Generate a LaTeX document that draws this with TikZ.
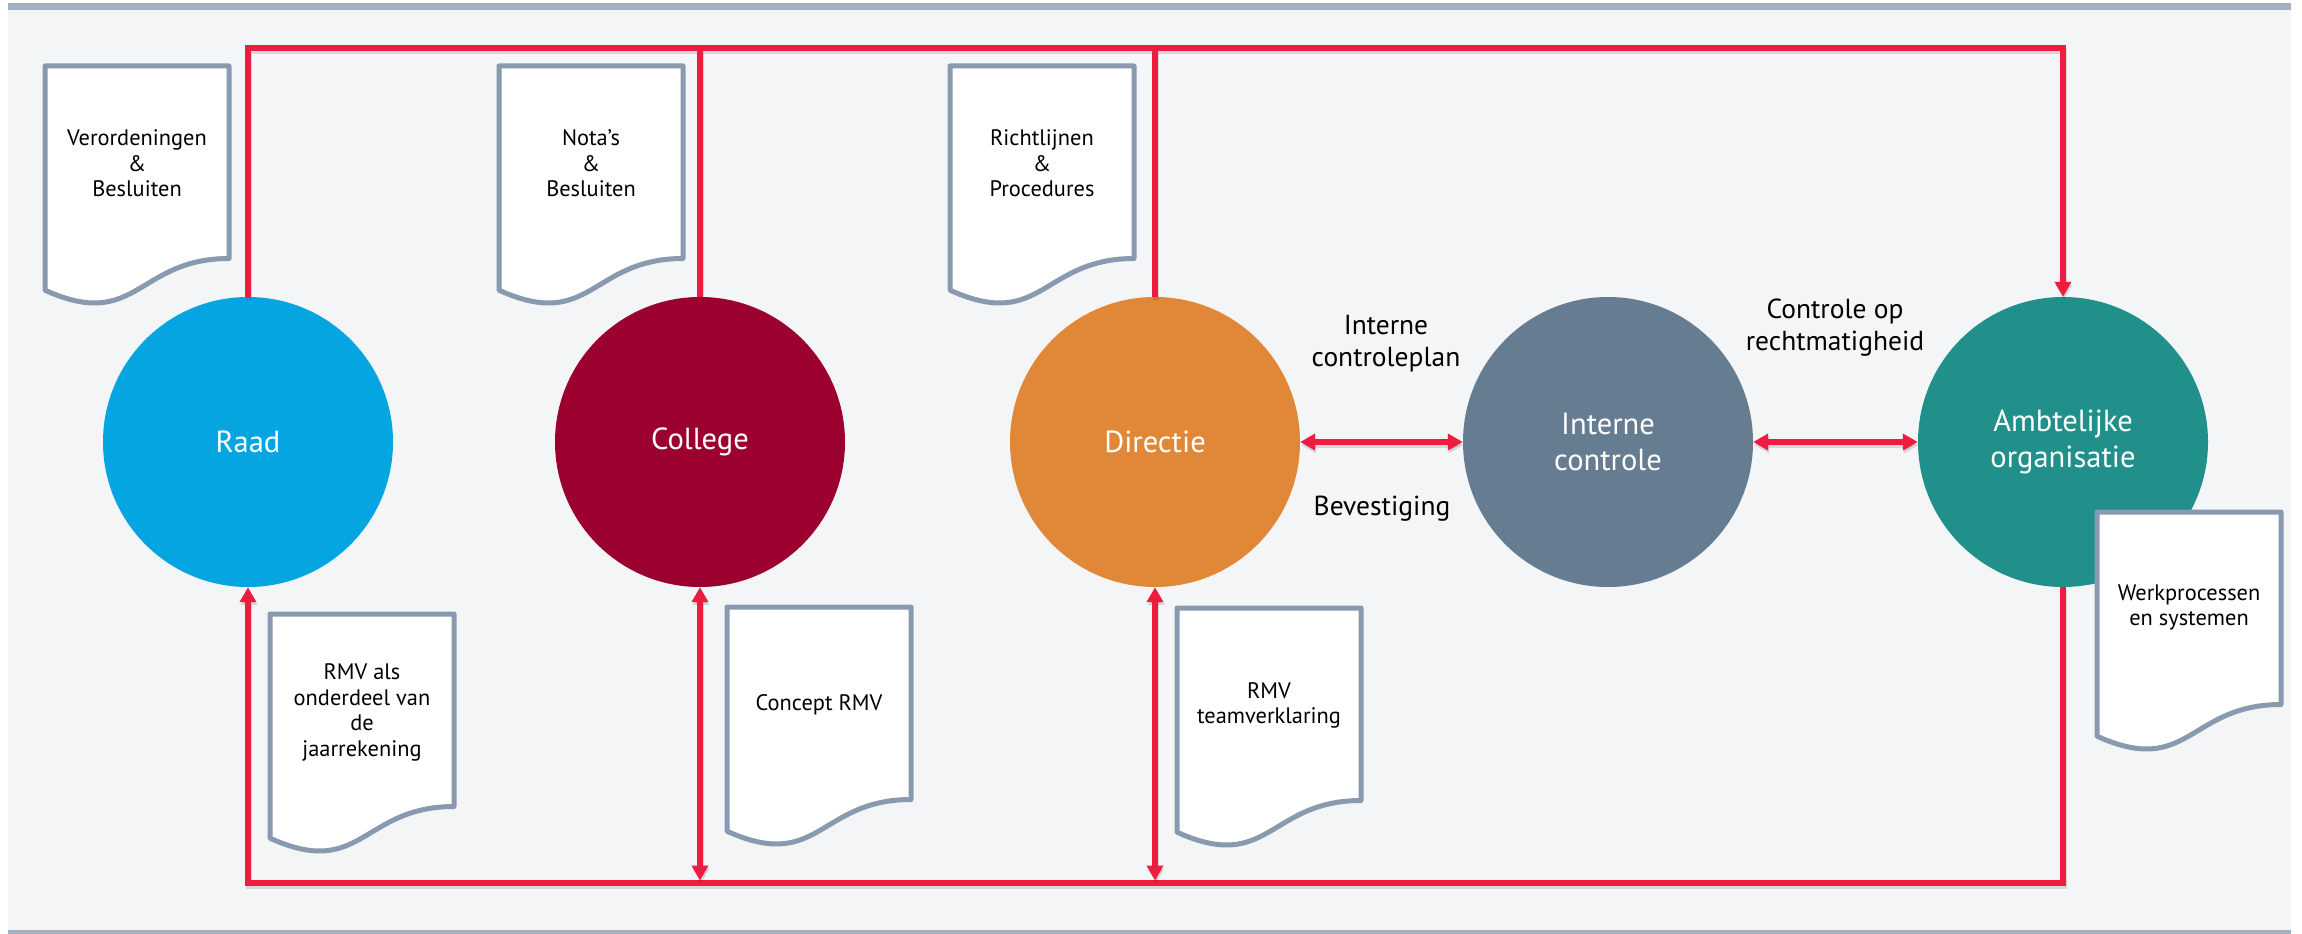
\documentclass[tikz,border=0pt]{standalone}
\usepackage{fontspec}
\setmainfont{PT Sans}
\usetikzlibrary{arrows.meta}
\definecolor{bgc}{HTML}{F3F5F7}
\definecolor{barc}{HTML}{A2B0C1}
\definecolor{redc}{HTML}{EE1D3F}
\definecolor{docc}{HTML}{8899B0}
\definecolor{craad}{HTML}{04A5E1}
\definecolor{ccol}{HTML}{9B002F}
\definecolor{cdir}{HTML}{E08838}
\definecolor{cic}{HTML}{667C91}
\definecolor{camb}{HTML}{21908B}
\newcommand{\docshape}[2]{%
  \draw[docb] (#1,#2) -- ({#1+184},#2) -- ({#1+184},{#2+192.5})
    .. controls ({#1+92},{#2+192.5}) and ({#1+92},{#2+265.8}) .. (#1,{#2+224.2}) -- cycle;}
\begin{document}
\begin{tikzpicture}[x=1pt,y=-1pt,
  circ/.style={circle, minimum size=290pt, inner sep=0pt, text=white, align=center,
    font=\fontsize{30.5}{35.7}\selectfont},
  docb/.style={draw=docc, line width=5pt, fill=white, line join=round},
  doct/.style={align=center, inner sep=0pt, font=\fontsize{22.4}{25.5}\selectfont},
  lab/.style={align=center, inner sep=0pt, font=\fontsize{27.5}{32}\selectfont},
  redl/.style={draw=redc, line width=5.5pt,
    preaction={draw=black, opacity=0.12, line width=6.5pt, transform canvas={yshift=-3pt,xshift=1pt}}},
  tip/.tip={Triangle[length=15pt, width=16pt]}
]
\useasboundingbox (0,0) rectangle (2302,934);
\fill[white] (0,0) rectangle (2302,934);
\fill[bgc] (8,10) rectangle (2291,930);
\fill[barc] (8,3) rectangle (2291,10.5);
\fill[barc] (8,929.5) rectangle (2291,934);

% circles
\node[circ, fill=craad] (raad) at (248,442) {Raad};
\node[circ, fill=ccol] (college) at (700,442) {College};
\node[circ, fill=cdir] (directie) at (1155,442) {Directie};
\node[circ, fill=cic] (ic) at (1608,442) {Interne\\controle};
\node[circ, fill=camb] (amb) at (2063,442) {Ambtelijke\\organisatie};

% red connectors
\coordinate (tl) at (248,48);
\coordinate (tr) at (2063,48);
\coordinate (bl) at (248,883);
\draw[redl, -{tip}] (raad.north) |- (tr) -- (amb.north);
\draw[redl] (college.north) -- (college.north |- tl);
\draw[redl] (directie.north) -- (directie.north |- tl);
\draw[redl, -{tip}] (amb.south) |- (bl) -- (raad.south);
\draw[redl, {tip}-{tip}, shorten >=2.5pt] (college.south) -- (college.south |- bl);
\draw[redl, {tip}-{tip}, shorten >=2.5pt] (directie.south) -- (directie.south |- bl);
\draw[redl, {tip}-{tip}] (directie.east) -- (ic.west);
\draw[redl, {tip}-{tip}] (ic.east) -- (amb.west);

% labels
\node[lab] (lplan) at (1386,344) {Interne\\controleplan};
\node[lab] (lbev) at (1382,509) {Bevestiging};
\node[lab] (lrecht) at (1835,328) {Controle op\\rechtmatigheid};

% documents
\docshape{45}{66}
\node[doct] (d1) at (137,163.5) {Verordeningen\\\&\\Besluiten};
\docshape{499}{66}
\node[doct] (d2) at (591,163.5) {Nota’s\\\&\\Besluiten};
\docshape{950}{66}
\node[doct] (d3) at (1042,163.5) {Richtlijnen\\\&\\Procedures};
\docshape{270}{614}
\node[doct] (d4) at (362,712.5) {RMV als\\onderdeel van\\de\\jaarrekening};
\docshape{727}{607}
\node[doct] (d5) at (819,705) {Concept RMV};
\docshape{1177}{608}
\node[doct] (d6) at (1269,705.5) {RMV\\teamverklaring};
\docshape{2097}{512}
\node[doct] (d7) at (2189,607.5) {Werkprocessen\\en systemen};
\end{tikzpicture}
\end{document}
